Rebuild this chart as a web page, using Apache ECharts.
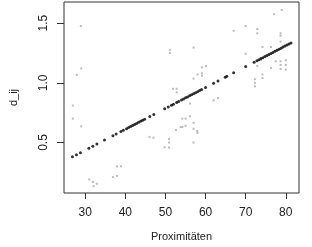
<!DOCTYPE html>
<html><head><meta charset="utf-8">
<script src="https://cdn.jsdelivr.net/npm/echarts@6/dist/echarts.min.js"></script>
<style>html,body{margin:0;padding:0;background:#fff}#c{width:312px;height:247px}</style>
</head><body><div id="c"></div>
<script>
// Observed values (gray)
var obsX = [26.9,26.9,27.9,28.9,29.0,29.0,31.0,31.9,32.1,32.9,36.9,37.9,37.9,38.9,46.0,47.0,49.8,50.9,50.9,50.9,51.1,51.1,51.9,52.8,52.8,52.6,53.8,54.2,55.0,54.2,55.0,56.1,56.1,57.0,57.0,57.9,57.0,58.0,57.0,59.1,60.1,58.0,59.1,59.1,57.0,62.0,63.1,67.0,70.0,70.0,72.9,72.9,72.9,72.3,72.3,72.3,73.8,74.2,74.2,74.2,76.3,76.3,77.1,77.5,78.7,78.7,78.7,78.7,78.7,78.7,79.0,80.0,80.0,80.0];
var obsY = [0.81,0.70,1.066,1.475,1.12,0.635,0.19,0.17,0.134,0.154,0.21,0.22,0.30,0.30,0.547,0.54,0.46,0.53,0.50,0.458,1.276,1.25,0.95,0.95,0.92,0.604,0.63,0.70,0.70,0.63,0.64,0.72,0.826,0.665,0.615,0.596,0.50,0.58,1.295,1.13,1.14,1.07,1.08,1.06,1.035,0.853,0.872,1.436,1.475,1.243,1.45,1.415,1.14,1.03,1.00,0.97,1.19,1.30,1.07,1.04,1.30,1.125,1.575,1.18,1.415,1.395,1.345,1.18,1.15,1.116,1.61,1.19,1.15,1.11];
// Fitted values (black)
var fitX = [26.8,27.8,28.8,30.9,31.9,32.9,34.8,36.9,37.7,38.9,39.5,40.3,40.8,41.3,41.8,42.3,42.8,43.3,43.8,44.3,44.8,46.1,47.1,49.8,50.7,51.5,52.0,52.8,53.3,54.0,54.5,55.0,55.5,56.0,56.5,57.0,57.5,58.0,58.5,59.0,60.0,62.0,63.1,64.9,65.3,67.0,70.0,72.1,72.8,73.3,73.8,74.3,74.8,75.3,75.8,76.3,76.8,77.3,77.8,78.3,78.8,79.3,79.8,80.3,80.8,81.3];
var fitY = [0.380,0.398,0.415,0.452,0.469,0.487,0.520,0.557,0.571,0.592,0.602,0.616,0.625,0.634,0.643,0.651,0.660,0.669,0.678,0.686,0.695,0.718,0.735,0.783,0.798,0.812,0.821,0.835,0.844,0.856,0.865,0.874,0.882,0.891,0.900,0.909,0.917,0.926,0.935,0.944,0.961,0.996,1.015,1.047,1.054,1.084,1.136,1.173,1.185,1.194,1.203,1.211,1.220,1.229,1.238,1.246,1.255,1.264,1.273,1.281,1.290,1.299,1.308,1.316,1.325,1.334];
var xTicks = [30,40,50,60,70,80];
var yTicks = [0.5,1.0,1.5];
var xTitle = "Proximitäten";
var yTitle = "d_ij";

var font = "Liberation Sans, Arial, sans-serif";
var chart = echarts.init(document.getElementById('c'), null, {renderer:'canvas'});
chart.setOption({
  animation:false,
  backgroundColor:'#fff',
  grid:{left:63,right:13,top:2,bottom:52,show:true,borderColor:'#333',borderWidth:1,backgroundColor:'transparent'},
  xAxis:{type:'value',min:24.7,max:83.3,
    name:xTitle,nameLocation:'middle',nameGap:38,
    nameTextStyle:{fontFamily:font,fontSize:11,color:'#222'},
    axisLine:{show:false},splitLine:{show:false},
    axisTick:{show:true,length:6,lineStyle:{color:'#333'},customValues:xTicks},
    axisLabel:{fontFamily:font,fontSize:12,color:'#222',margin:14,customValues:xTicks}},
  yAxis:{type:'value',min:0.077,max:1.677,
    name:yTitle,nameLocation:'middle',nameGap:45,nameRotate:90,
    nameTextStyle:{fontFamily:font,fontSize:11,color:'#222'},
    axisLine:{show:false},splitLine:{show:false},
    axisTick:{show:true,length:7,lineStyle:{color:'#333'},customValues:yTicks},
    axisLabel:{fontFamily:font,fontSize:12,color:'#222',margin:14,rotate:90,customValues:yTicks,
      formatter:function(v){return v.toFixed(1);}}},
  series:[
    {type:'scatter',symbol:'rect',symbolSize:2,itemStyle:{color:'#aaa'},
     data:obsX.map(function(x,i){return [x,obsY[i]];})},
    {type:'scatter',symbol:'circle',symbolSize:3,itemStyle:{color:'#000'},
     data:fitX.map(function(x,i){return [x,fitY[i]];})}
  ]
});
</script></body></html>
